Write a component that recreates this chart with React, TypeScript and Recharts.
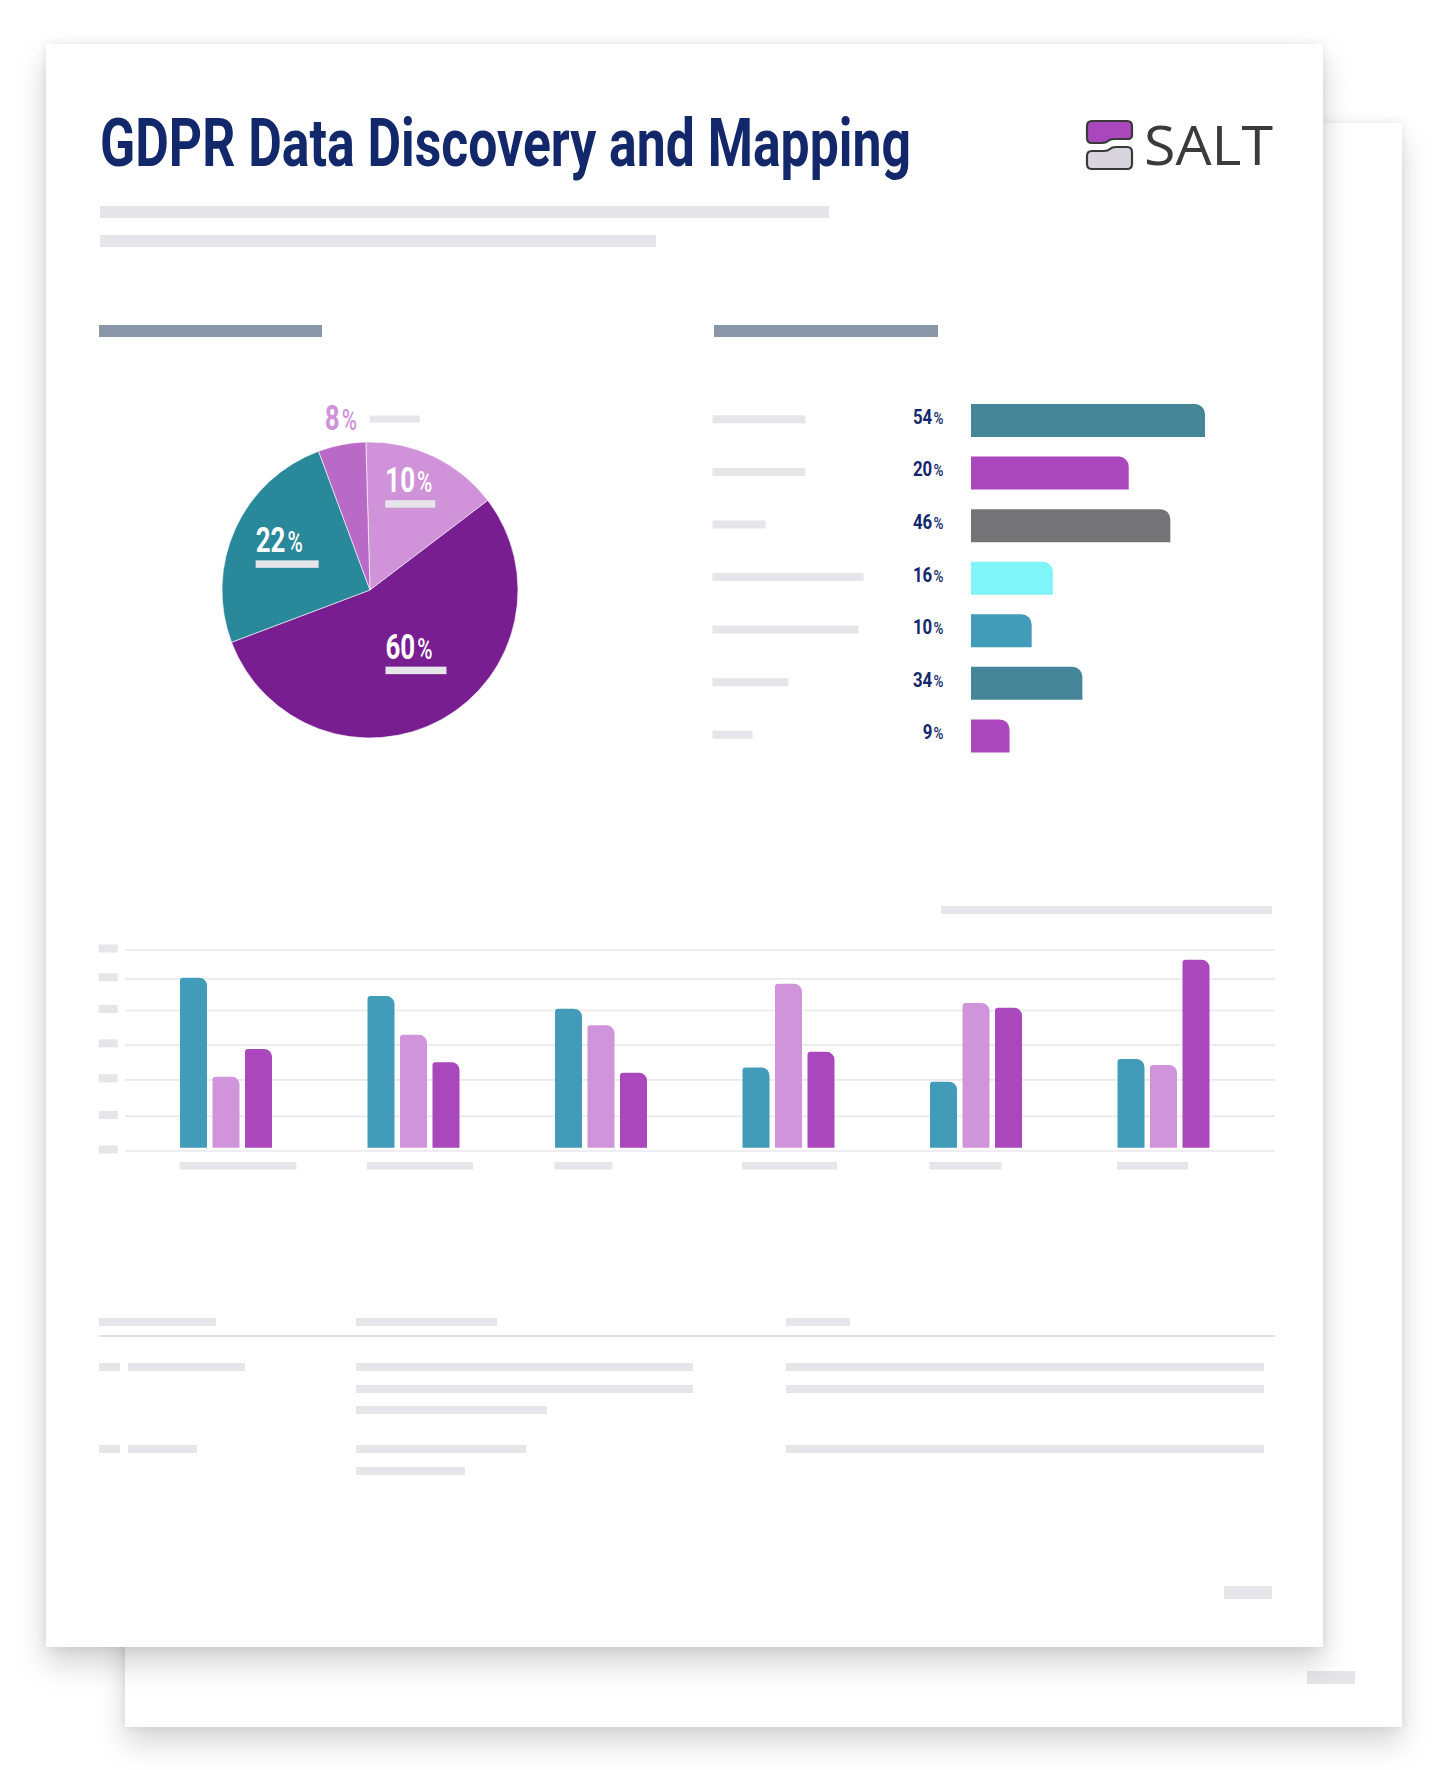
import React from 'react';
import { PieChart, Pie, Cell, BarChart, Bar, XAxis, YAxis, CartesianGrid } from 'recharts';

const NAVY = '#13286b';
const GHOST = '#e6e5ea';
const FONT = 'Roboto, "Liberation Sans", sans-serif';

// pie: slice shares, names as printed on the slices
const pieNames = ['10%', '60%', '22%', '8%'];
const pieShares = [15.1, 54.6, 25.1, 5.2];
const pieColors = ['#d093d9', '#791e91', '#298899', '#b96ac7'];

// ranked bars: bar lengths, names as printed
const rankNames = ['54%', '20%', '46%', '16%', '10%', '34%', '9%'];
const rankValues = [54, 36.4, 46, 18.9, 14, 25.7, 8.9];
const rankColors = ['#458598', '#ab47bc', '#747476', '#80f5f8', '#429bb8', '#458598', '#ab47bc'];

// grouped bars
const groups = ['G1', 'G2', 'G3', 'G4', 'G5', 'G6'];
const seriesTeal = [86.0, 76.7, 70.3, 40.6, 33.4, 44.8];
const seriesPink = [35.9, 57.1, 61.9, 82.9, 73.2, 41.8];
const seriesPurple = [49.9, 43.2, 37.9, 48.5, 70.8, 95.1];
const gridTicks = [-1.7, 15.8, 34.3, 52, 69.4, 85.4, 100];

const pieData = pieNames.map((name, i) => ({ name, value: pieShares[i] }));
const rankData = rankNames.map((name, i) => ({ name, value: rankValues[i] }));
const groupData = groups.map((name, i) => ({
  name,
  teal: seriesTeal[i],
  pink: seriesPink[i],
  purple: seriesPurple[i],
}));

// placeholder "text" widths (greyed out copy in the mockup)
const rankGhost = [93, 93, 53, 151, 146, 76, 40];
const groupGhost = [117, 106, 58, 95, 72, 71];
const labelReach = [0.74, 0.53, 0.63, 1.18];
const labelNudge = [[-7, -4], [8, -5], [2, -4], [5, -2]];
const pieGhost = [50, 61, 63, 50];

const Ghost = ({ x, y, w, h, c }: { x: number; y: number; w: number; h: number; c?: string }) => (
  <div style={{ position: 'absolute', left: x, top: y, width: w, height: h, background: c || GHOST }} />
);

// condensed "12%" label: big bold digits, smaller percent sign
const Pct = ({ x, y, text, size, fill, anchor, sx }: { x: number; y: number; text: string; size: number; fill: string; anchor?: string; sx: number }) => {
  const digits = text.replace('%', '');
  return (
    <text transform={`translate(${x},${y}) scale(${sx},1)`} textAnchor={anchor || 'start'} fill={fill} fontFamily={FONT}>
      <tspan fontSize={size} fontWeight={700}>{digits}</tspan>
      <tspan fontSize={size * 0.8} fontWeight={500} dx={size * 0.08}>%</tspan>
    </text>
  );
};

const renderPieLabel = (props: any) => {
  const { cx, cy, midAngle, outerRadius, index } = props;
  const r = outerRadius * labelReach[index];
  const a = (-midAngle * Math.PI) / 180;
  const bx = cx + r * Math.cos(a) + labelNudge[index][0];
  const by = cy + r * Math.sin(a) + labelNudge[index][1];
  if (pieShares[index] < 10) {
    const left = bx - 17;
    return (
      <g>
        <Pct x={left} y={by + 13} text={pieNames[index]} size={36} fill={pieColors[0]} sx={0.72} />
        <rect x={left + 45} y={by - 1} width={pieGhost[index]} height={7} fill={GHOST} />
      </g>
    );
  }
  const left = bx - pieGhost[index] / 2;
  return (
    <g>
      <Pct x={left} y={by + 5} text={pieNames[index]} size={36} fill="#fff" sx={0.72} />
      <rect x={left} y={by + 13} width={pieGhost[index]} height={7.5} fill={GHOST} />
    </g>
  );
};

const RankTick = (props: any) => {
  const { y, payload, index } = props;
  return (
    <g>
      <rect x={12.5} y={y - 5} width={rankGhost[index]} height={8} fill={GHOST} />
      <Pct x={243.5} y={y + 3.6} text={String(payload.value)} size={21} fill={NAVY} anchor="end" sx={0.8} />
    </g>
  );
};

const GroupTick = (props: any) => {
  const { x, index } = props;
  return <rect x={x - 46.3} y={222} width={groupGhost[index]} height={7.6} fill={GHOST} />;
};

const GridTick = (props: any) => {
  const { y } = props;
  return <rect x={8.7} y={y - 5.5} width={19} height={8} fill={GHOST} />;
};

const App = () => {
  return (
    <div style={{ position: 'absolute', left: 0, top: 0, width: 1448, height: 1770, background: '#fff', overflow: 'hidden', fontFamily: FONT }}>
      {/* back sheet */}
      <div style={{ position: 'absolute', left: 125, top: 123, width: 1277, height: 1604, background: '#fff',
        boxShadow: '0 16px 28px rgba(0,0,0,0.16), 0 0 10px rgba(0,0,0,0.08)' }} />
      <Ghost x={1307} y={1671} w={48} h={13} />

      {/* front sheet */}
      <div style={{ position: 'absolute', left: 46, top: 44, width: 1277, height: 1603, background: '#fff',
        boxShadow: '0 16px 28px rgba(0,0,0,0.18), 0 0 10px rgba(0,0,0,0.08)' }} />

      <svg width={1448} height={260} style={{ position: 'absolute', left: 0, top: 0 }}>
        <text x={100} y={166} fontSize={66} fontWeight={700} fill={NAVY} fontFamily={FONT}
          textLength={811} lengthAdjust="spacingAndGlyphs">GDPR Data Discovery and Mapping</text>
        <g transform="translate(1087,121)" stroke="#3a3a3a" strokeWidth={2.2} strokeLinejoin="round">
          <path d="M5 0 H40 Q45 0 45 5 V14 Q45 18 41 18 H27 Q23 18 21 20 Q19 22 15 22 H5 Q0 22 0 17 V5 Q0 0 5 0 Z" fill="#ab47bc" />
          <path d="M5 30 H17 Q21 30 23 28 Q25 26 29 26 H40 Q45 26 45 31 V43 Q45 48 40 48 H5 Q0 48 0 43 V35 Q0 30 5 30 Z" fill="#d8d6dc" />
        </g>
        <text x={1144} y={165} fontSize={54} fontWeight={400} fill="#3b3b3b" fontFamily='"Open Sans", Lato, sans-serif'
          textLength={129} lengthAdjust="spacingAndGlyphs">SALT</text>
      </svg>

      <Ghost x={100} y={206} w={729} h={12} />
      <Ghost x={100} y={235} w={556} h={12} />
      <Ghost x={99} y={325} w={223} h={12} c="#8896a8" />
      <Ghost x={714} y={325} w={224} h={12} c="#8896a8" />

      {/* pie */}
      <div style={{ position: 'absolute', left: 170, top: 390 }}>
        <PieChart width={400} height={400} margin={{ top: 0, right: 0, bottom: 0, left: 0 }}>
          <Pie data={pieData} dataKey="value" nameKey="name" cx={200} cy={200} outerRadius={148}
            startAngle={91.6} endAngle={-268.4} stroke="#fff" strokeWidth={0.6}
            label={renderPieLabel} labelLine={false} isAnimationActive={false}>
            {pieData.map((d, i) => (
              <Cell key={d.name} fill={pieColors[i]} />
            ))}
          </Pie>
        </PieChart>
      </div>

      {/* ranked bars */}
      <div style={{ position: 'absolute', left: 700, top: 394 }}>
        <BarChart layout="vertical" width={531} height={368} data={rankData}
          margin={{ top: 0, right: 0, bottom: 0, left: 0 }}>
          <XAxis type="number" hide domain={[0, 60]} />
          <YAxis type="category" dataKey="name" width={271} axisLine={false} tickLine={false}
            interval={0} tick={(p: any) => <RankTick {...p} />} />
          <Bar dataKey="value" barSize={33} radius={[0, 10, 0, 0]} isAnimationActive={false}>
            {rankData.map((d, i) => (
              <Cell key={d.name} fill={rankColors[i]} />
            ))}
          </Bar>
        </BarChart>
      </div>

      {/* grouped bars */}
      <Ghost x={941} y={906} w={331} h={8} />
      <div style={{ position: 'absolute', left: 90, top: 940 }}>
        <BarChart width={1185} height={241} data={groupData} barGap={5.5}
          margin={{ top: 10, right: 0, bottom: 0, left: 0 }}>
          <CartesianGrid vertical={false} stroke="#e9e9ee" strokeWidth={1.6} />
          <XAxis dataKey="name" height={30} axisLine={false} tickLine={false} interval={0}
            padding={{ left: 7, right: 18 }} tick={(p: any) => <GroupTick {...p} />} />
          <YAxis width={35} domain={[-1.7, 100]} ticks={gridTicks} allowDataOverflow axisLine={false}
            tickLine={false} interval={0} tick={(p: any) => <GridTick {...p} />} />
          <Bar dataKey="teal" barSize={27} fill="#429cb9" radius={[3, 8, 0, 0]} isAnimationActive={false} />
          <Bar dataKey="pink" barSize={27} fill="#d094da" radius={[3, 8, 0, 0]} isAnimationActive={false} />
          <Bar dataKey="purple" barSize={27} fill="#ab47bc" radius={[3, 8, 0, 0]} isAnimationActive={false} />
        </BarChart>
      </div>

      {/* table placeholder */}
      <Ghost x={99} y={1318} w={117} h={8} />
      <Ghost x={356} y={1318} w={141} h={8} />
      <Ghost x={786} y={1318} w={64} h={8} />
      <Ghost x={99} y={1334.5} w={1176} h={2.5} c="#e0e0e6" />
      <Ghost x={99} y={1363} w={21} h={8} />
      <Ghost x={128} y={1363} w={117} h={8} />
      <Ghost x={356} y={1363} w={337} h={8} />
      <Ghost x={356} y={1385} w={337} h={8} />
      <Ghost x={356} y={1406} w={191} h={8} />
      <Ghost x={786} y={1363} w={478} h={8} />
      <Ghost x={786} y={1385} w={478} h={8} />
      <Ghost x={99} y={1445} w={21} h={8} />
      <Ghost x={128} y={1445} w={69} h={8} />
      <Ghost x={356} y={1445} w={170} h={8} />
      <Ghost x={356} y={1467} w={109} h={8} />
      <Ghost x={786} y={1445} w={478} h={8} />

      <Ghost x={1224} y={1586} w={48} h={13} />
    </div>
  );
};

export default App;
